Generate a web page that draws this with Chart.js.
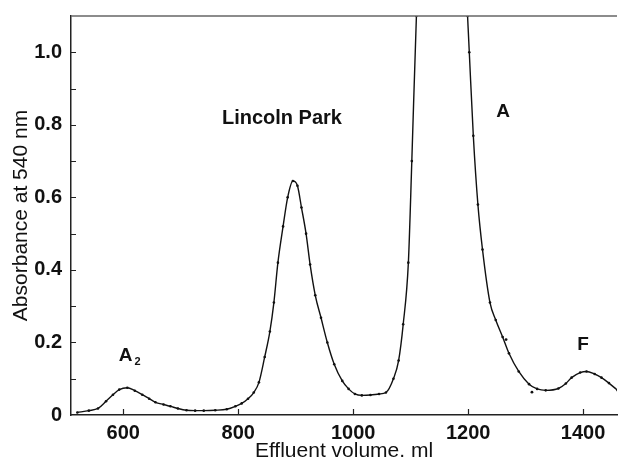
<!DOCTYPE html>
<html>
<head>
<meta charset="utf-8">
<script src="https://cdn.jsdelivr.net/npm/chart.js@4.4.1/dist/chart.umd.min.js"></script>
<style>
  html, body { margin: 0; padding: 0; background: #fff; }
  canvas { display: block; }
</style>
</head>
<body>
<canvas id="canvas" width="621" height="461"></canvas>
<script>
// Effluent volume (ml) and absorbance at 540 nm
const volume = [
  520, 540, 556, 570, 582, 593, 607, 620, 633, 645, 656, 670, 682, 695, 710,
  725, 740, 760, 780, 795, 806, 817, 827, 836, 846, 855, 862, 869, 878, 886,
  895, 903, 910, 918, 925, 934, 944, 955, 967, 981, 992, 1003, 1015, 1030,
  1045, 1057, 1070, 1079, 1087, 1096, 1102, 1110, 1125, 1150, 1175, 1190,
  1199, 1202, 1209, 1217, 1225, 1238, 1248, 1260, 1271, 1288, 1306, 1320,
  1335, 1357, 1370, 1380, 1395, 1406, 1420, 1432, 1445, 1460
];
const absorbance = [
  0.007, 0.012, 0.018, 0.038, 0.056, 0.070, 0.075, 0.067, 0.056, 0.045, 0.035,
  0.029, 0.024, 0.018, 0.013, 0.012, 0.012, 0.013, 0.016, 0.024, 0.032, 0.045,
  0.062, 0.090, 0.160, 0.230, 0.310, 0.420, 0.520, 0.600, 0.645, 0.632, 0.572,
  0.500, 0.415, 0.330, 0.268, 0.200, 0.140, 0.094, 0.072, 0.058, 0.054, 0.055,
  0.058, 0.062, 0.100, 0.150, 0.250, 0.420, 0.700, 1.100, 1.600, 2.000, 1.800,
  1.400, 1.100, 1.000, 0.770, 0.580, 0.456, 0.310, 0.262, 0.215, 0.170, 0.120,
  0.085, 0.072, 0.068, 0.073, 0.087, 0.103, 0.117, 0.120, 0.113, 0.103, 0.088,
  0.068
];
// stray readings
const strayVolume = [1266, 1311];
const strayAbsorbance = [0.208, 0.063];

const xTicks = [600, 800, 1000, 1200, 1400];
const yTicks = [0, 0.2, 0.4, 0.6, 0.8, 1.0];
const yMinorTicks = [0.1, 0.3, 0.5, 0.7, 0.9];

// peak labels: [text, volume, absorbance]
const peakLabels = [
  ["Lincoln Park", 876, 0.818],
  ["A", 1261, 0.835],
  ["F", 1400, 0.195],
  ["A", 604, 0.163]
];

const FONT = "'Liberation Sans', Arial, sans-serif";

// ticks pointing inward, frame top line and peak labels
const decor = {
  id: "decor",
  afterDraw(chart) {
    const ctx = chart.ctx;
    const { left, right, top, bottom } = chart.chartArea;
    const xs = chart.scales.x;
    const ys = chart.scales.y;
    ctx.save();
    ctx.strokeStyle = "#222";
    ctx.lineWidth = 1.2;
    ctx.beginPath();
    yTicks.concat(yMinorTicks).forEach((v) => {
      if (v === 0) return;
      const py = Math.round(ys.getPixelForValue(v)) + 0.5;
      ctx.moveTo(left, py);
      ctx.lineTo(left + 5, py);
    });
    xTicks.forEach((v) => {
      const px = Math.round(xs.getPixelForValue(v)) + 0.5;
      ctx.moveTo(px, bottom);
      ctx.lineTo(px, bottom - 6);
    });
    ctx.stroke();

    ctx.strokeStyle = "#666";
    ctx.lineWidth = 1.5;
    ctx.beginPath();
    ctx.moveTo(left, top);
    ctx.lineTo(right, top);
    ctx.stroke();

    ctx.fillStyle = "#111";
    ctx.textAlign = "center";
    ctx.textBaseline = "middle";
    peakLabels.forEach(([text, v, a], i) => {
      const px = xs.getPixelForValue(v);
      const py = ys.getPixelForValue(a);
      ctx.font = (i === 0 ? "bold 20px " : "bold 19px ") + FONT;
      ctx.fillText(text, px, py);
      if (i === 3) {
        ctx.font = "bold 11px " + FONT;
        ctx.fillText("2", px + 12, py + 6);
      }
    });
    ctx.restore();
  }
};

const points = volume.map((v, i) => ({ x: v, y: absorbance[i] }));
const stray = strayVolume.map((v, i) => ({ x: v, y: strayAbsorbance[i] }));

new Chart(document.getElementById("canvas").getContext("2d"), {
  type: "line",
  data: {
    datasets: [
      {
        data: points,
        borderColor: "#111",
        borderWidth: 1.4,
        pointRadius: 1.3,
        pointBackgroundColor: "#111",
        pointBorderWidth: 0,
        cubicInterpolationMode: "monotone",
        fill: false
      },
      {
        data: stray,
        showLine: false,
        pointRadius: 1.4,
        pointBackgroundColor: "#111",
        pointBorderWidth: 0
      }
    ]
  },
  options: {
    responsive: false,
    animation: false,
    events: [],
    layout: { padding: { top: 16, right: 0, left: 0, bottom: 0 } },
    plugins: { legend: { display: false }, tooltip: { enabled: false } },
    scales: {
      x: {
        type: "linear",
        min: 509,
        max: 1459,
        afterBuildTicks: (scale) => {
          scale.ticks = xTicks.map((v) => ({ value: v }));
        },
        afterFit: (scale) => {
          scale.height = 46;
          scale.paddingLeft = 0;
          scale.paddingRight = 0;
        },
        grid: { display: false, drawTicks: false },
        border: { display: true, color: "#222", width: 1.5 },
        ticks: {
          padding: 6,
          maxRotation: 0,
          color: "#111",
          font: { family: FONT, size: 20, weight: "bold" },
          callback: (v) => String(v)
        },
        title: {
          display: true,
          text: "Effluent volume. ml",
          color: "#111",
          padding: { top: 0, bottom: -1 },
          font: { family: FONT, size: 21, lineHeight: 1 }
        }
      },
      y: {
        min: 0,
        max: 1.1,
        afterBuildTicks: (scale) => {
          scale.ticks = yTicks.map((v) => ({ value: v }));
        },
        afterFit: (scale) => {
          scale.width = 71;
          scale.paddingTop = 0;
          scale.paddingBottom = 0;
        },
        grid: { display: false, drawTicks: false },
        border: { display: true, color: "#222", width: 1.5 },
        ticks: {
          padding: 9,
          color: "#111",
          font: { family: FONT, size: 20, weight: "bold" },
          callback: (v) => (v === 0 ? "0" : v.toFixed(1))
        },
        title: {
          display: true,
          text: "Absorbance at 540 nm",
          color: "#111",
          padding: { top: 9, bottom: 0 },
          font: { family: FONT, size: 21 }
        }
      }
    }
  },
  plugins: [decor]
});
</script>
</body>
</html>
